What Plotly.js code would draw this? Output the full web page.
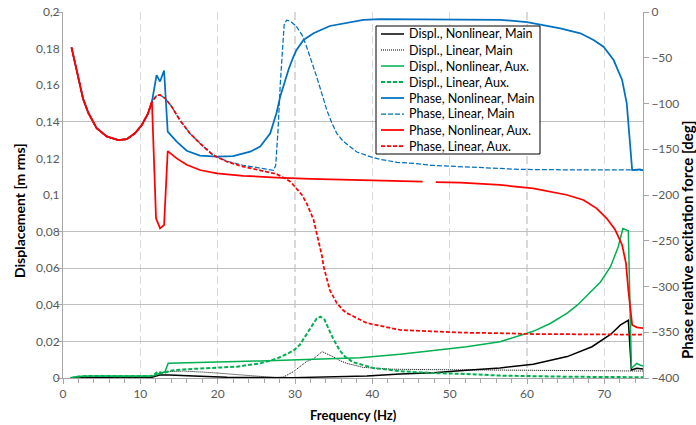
<!DOCTYPE html>
<html><head><meta charset="utf-8">
<script src="https://cdn.plot.ly/plotly-3.0.1.min.js"></script>
<style>body{margin:0;padding:0;background:#fff}#chart{width:696px;height:425px}</style>
</head><body><div id="chart"></div>
<script>
// ---- Data ----
// Displacement, Nonlinear, Main [m rms]
const fDNLMain = [1,8,11.5,12.5,13.8,16.9,21.2,29.8,35,39.3,43.6,47.9,52.2,56.5,60.8,65.2,68.4,70.8,72.1,72.9,73.1,73.5,74.2,75];
const dNLMain  = [0.0002,0.0003,0.0004,0.0016,0.0016,0.0011,0.0004,0.0002,0.0005,0.0011,0.0022,0.0029,0.0042,0.0055,0.0075,0.0117,0.0171,0.0238,0.029,0.0313,0.0315,0.0044,0.0053,0.0049];
// Displacement, Linear, Main
const fDLMain = [1,8,11.2,12,12.5,13.8,15.6,19,21.2,23.3,25.5,27.6,28.5,29.8,31.5,32.4,33.5,35,35.8,36.7,38.8,42.7,47,52.2,60.8,75];
const dLMain  = [0.0003,0.0004,0.0005,0.0015,0.0029,0.0035,0.0038,0.003,0.0023,0.0016,0.0009,0.0002,0.0005,0.0035,0.009,0.0105,0.0144,0.0115,0.0095,0.008,0.0058,0.0048,0.0046,0.0044,0.004,0.0038];
// Displacement, Nonlinear, Aux.
const fDNLAux = [1,1.5,2.5,3.5,8.2,11.2,11.7,12.5,13.2,13.6,16.9,21.2,25.5,29.8,34.1,38.4,43.6,47.9,52.2,56.5,60.8,63,65.2,66.5,67.8,69.5,70.8,71.8,72.4,72.9,73.1,73.5,74.2,74.6,75];
const dNLAux  = [0,0.0006,0.001,0.0011,0.0011,0.0009,0.0012,0.0025,0.0035,0.008,0.0085,0.0089,0.0093,0.0098,0.0104,0.011,0.013,0.015,0.0171,0.0198,0.0255,0.0298,0.0355,0.0398,0.0452,0.0525,0.0608,0.0717,0.0817,0.0809,0.0805,0.0053,0.008,0.0071,0.0066];
// Displacement, Linear, Aux.
const fDLAux = [1,2,3.5,8.2,11.2,11.7,12.3,13,13.8,15.6,19,22.5,25.5,27.6,28.9,29.8,30.6,31.5,32.2,32.8,33.3,33.8,34.5,35,35.8,36.5,37.6,39.3,40.1,43.6,47.9,52.2,56.5,65.2,75];
const dLAux  = [0,0.0008,0.0011,0.0011,0.0009,0.0016,0.0035,0.0025,0.004,0.0047,0.0053,0.0062,0.008,0.0105,0.013,0.015,0.018,0.024,0.029,0.0325,0.0335,0.032,0.0255,0.021,0.015,0.0115,0.0085,0.0062,0.0055,0.0037,0.0027,0.0022,0.0013,0.0007,0.0004];
// Phase, Nonlinear, Main [deg]
const fPNLMain = [1.1,1.75,2.2,2.6,3.3,4.35,5.65,7.16,8.24,9.3,10.2,11,11.5,12.1,12.55,13.07,13.54,14.7,16,17.7,19.9,22,24.2,25.5,26.8,27.6,28.1,28.5,29.2,29.8,30.2,31.1,32.4,34.5,36.7,38.85,41,51.4,56.5,60,62.1,64.3,66.9,68.6,69.9,71.2,72.3,72.9,73.6,74.6,75];
const pNLMain  = [-38.6,-63,-81.6,-95,-110.7,-127,-136,-140,-139,-132.6,-123.5,-110.7,-98,-68.9,-76,-64,-130.8,-141.7,-151.6,-157,-158,-157.4,-152.7,-147,-132.6,-110.7,-92,-80,-62,-48.8,-41.5,-30.6,-23.3,-15.3,-11.7,-8.7,-7.7,-7.7,-8.5,-11,-14.2,-17.8,-23.3,-30.6,-37.9,-52.5,-74.3,-99.8,-172.7,-172,-173];
// Phase, Linear, Main
const fPLMain = [1.1,1.75,2.2,2.6,3.3,4.35,5.65,7.16,8.24,9.3,10.2,11,11.5,12.1,12.55,13.2,14.06,15.1,16.4,17.7,19.4,21.2,23.3,25.5,27.2,27.5,27.8,28.1,28.35,28.6,28.9,29.4,30.2,30.9,31.5,32.2,32.8,33.5,34.1,34.8,35.4,36.2,37.1,38,39.7,41,43.2,45.3,47.5,49.6,51.4,53.9,56.5,59.1,65,75];
const pLMain  = [-38.6,-63,-81.6,-95,-110.7,-127,-136,-140,-139,-132.6,-123.5,-110.7,-98,-91.4,-90.7,-94.3,-103.5,-118,-132.6,-143.5,-156.3,-163,-167.5,-170.5,-173,-168,-130,-78,-40,-14,-9,-10,-16,-25,-37.9,-55,-70.7,-90,-107,-122,-132.6,-141,-147,-153,-158,-161,-164.3,-165.4,-167.5,-168.3,-169.5,-170,-171,-172,-172.5,-172.7];
// Phase, Nonlinear, Aux.
const fPNLAux = [1.1,1.75,2.2,2.6,3.3,4.35,5.65,7.16,8.24,9.3,10.2,11,11.5,12.03,12.55,13.07,13.54,14.7,16,17.7,19.9,23.3,27.6,32,40,46.5,47.3,48.2,51.4,56.5,60.8,65.2,67.3,69,70.3,71.4,72.3,72.8,73.1,73.6,74.2,75];
const pNLAux  = [-38.6,-63,-81.6,-95,-110.7,-127,-136,-140,-139,-132.6,-123.5,-110.7,-98,-225.5,-236.4,-232.8,-152,-160,-167,-172.7,-176.3,-179,-181,-182.5,-184,-185.5,null,-186,-186.5,-189,-192.7,-200,-205.5,-214.6,-225.5,-238,-254.6,-274.7,-303.8,-342,-344.6,-345.4];
// Phase, Linear, Aux.
const fPLAux = [1.1,1.75,2.2,2.6,3.3,4.35,5.65,7.16,8.24,9.3,10.2,11,11.5,12.1,12.55,13.2,14.06,15.1,16.4,17.7,19.4,21.2,23.3,25.5,27.6,28.5,29.4,30.2,30.9,31.5,32,32.4,33,33.5,33.7,34.1,34.5,35.4,36.2,36.7,38.4,39.3,43.6,47.9,52.2,56.5,60.8,69.5,75];
const pLAux  = [-38.6,-63,-81.6,-95,-110.7,-127,-136,-140,-139,-132.6,-123.5,-110.7,-98,-91.4,-90.7,-94.3,-103.5,-118,-132.6,-143.5,-156.3,-163.6,-169,-172.7,-177,-181,-185.4,-193,-200,-209,-218,-227,-249,-267,-278,-292,-304,-318,-325.7,-329,-336.6,-340,-347.5,-349.4,-350.5,-351,-352,-352.3,-352.7];

const seriesNames = ["Displ., Nonlinear, Main","Displ., Linear, Main","Displ., Nonlinear, Aux.","Displ., Linear, Aux.","Phase, Nonlinear, Main","Phase, Linear, Main","Phase, Nonlinear, Aux.","Phase, Linear, Aux."];
const leftTickVals = [0,0.02,0.04,0.06,0.08,0.1,0.12,0.14,0.16,0.18,0.2];
const leftTickText = ["0","0,02","0,04","0,06","0,08","0,1","0,12","0,14","0,16","0,18","0,2"];
const leftGridVals = [0,0.02,0.04,0.06,0.08,0.14,0.2];
const rightTickVals = [0,-50,-100,-150,-200,-250,-300,-350,-400];
const xTickVals = [0,10,20,30,40,50,60,70];
const xTitle = "Frequency (Hz)";
const yLeftTitle = "Displacement [m rms]";
const yRightTitle = "Phase relative excitation force [deg]";

const BLACK="#000000", GREEN="#00B050", BLUE="#0070C0", RED="#FF0000";
const FONT = "Lato, 'Open Sans', sans-serif";

const lineStyles = [
  {color:BLACK,width:1.5},
  {color:BLACK,width:1,dash:"1px,1px"},
  {color:GREEN,width:1.5},
  {color:GREEN,width:2,dash:"4px,2px"},
  {color:BLUE,width:1.75},
  {color:BLUE,width:1.25,dash:"5px,2px"},
  {color:RED,width:1.75},
  {color:RED,width:1.75,dash:"4px,2px"}
];
const xs = [fDNLMain,fDLMain,fDNLAux,fDLAux,fPNLMain,fPLMain,fPNLAux,fPLAux];
const ys = [dNLMain,dLMain,dNLAux,dLAux,pNLMain,pLMain,pNLAux,pLAux];

const traces = seriesNames.map((n,i)=>({
  type:"scatter",mode:"lines",hoverinfo:"skip",showlegend:false,connectgaps:false,
  x:xs[i],y:ys[i],name:n,yaxis:i<4?"y":"y2",line:lineStyles[i]
}));
// dummy trace to activate yaxis3 gridlines
traces.unshift({type:"scatter",x:[0],y:[0],yaxis:"y3",mode:"markers",marker:{opacity:0},showlegend:false,hoverinfo:"skip"});

// pixel -> paper helpers
const plotL=63, plotR=643, plotT=12, plotB=378;
const px2x = p => (p-plotL)/(plotR-plotL);
const py2y = p => (plotB-p)/(plotB-plotT);

// custom legend box
const shapes = [{type:"rect",xref:"paper",yref:"paper",x0:px2x(376),x1:px2x(540),y0:py2y(26),y1:py2y(154),
  line:{color:"#000",width:1},fillcolor:"#fff",layer:"above"}];
const annotations = [];
seriesNames.forEach((n,i)=>{
  const cy = 34 + i*16;
  shapes.push({type:"line",xref:"paper",yref:"paper",x0:px2x(381),x1:px2x(404),y0:py2y(cy),y1:py2y(cy),
    line:lineStyles[i],layer:"above"});
  annotations.push({xref:"paper",yref:"paper",x:px2x(407),y:py2y(cy),xanchor:"left",yanchor:"middle",
    text:n,showarrow:false,font:{family:FONT,size:12.5,color:"#000"}});
});
// axis titles
const titleFont = s => ({family:FONT,size:s,color:"#000",weight:"bold"});
annotations.push({xref:"paper",yref:"paper",x:px2x(353),y:py2y(415),xanchor:"center",yanchor:"middle",
  text:xTitle,showarrow:false,font:titleFont(13)});
annotations.push({xref:"paper",yref:"paper",x:px2x(19),y:py2y(211),xanchor:"center",yanchor:"middle",textangle:-90,
  text:yLeftTitle,showarrow:false,font:titleFont(14)});
annotations.push({xref:"paper",yref:"paper",x:px2x(687),y:py2y(240),xanchor:"center",yanchor:"middle",textangle:-90,
  text:yRightTitle,showarrow:false,font:titleFont(15)});

const layout = {
  width:696, height:425,
  margin:{l:63,r:53,t:12,b:47},
  paper_bgcolor:"#fff", plot_bgcolor:"#fff",
  font:{family:FONT,size:12,color:"#595959"},
  showlegend:false,
  shapes:shapes, annotations:annotations,
  xaxis:{range:[0,75],tickvals:xTickVals,ticks:"outside",ticklen:5,tickcolor:"#A6A6A6",
         showline:true,linecolor:"#A6A6A6",linewidth:1,
         showgrid:true,gridcolor:"#D9D9D9",gridwidth:1.5,griddash:"8px,4px",zeroline:false,
         minor:{dtick:2,ticks:"outside",ticklen:4,tickcolor:"#A6A6A6",showgrid:false},
         tickfont:{family:FONT,size:12,color:"#595959"}},
  yaxis:{range:[0,0.2],tickvals:leftTickVals,ticktext:leftTickText,ticks:"",showgrid:false,zeroline:false,
         showline:true,linecolor:"#A6A6A6",linewidth:1,
         tickfont:{family:FONT,size:12,color:"#595959"}},
  yaxis3:{range:[0,0.2],overlaying:"y",tickvals:leftGridVals,showticklabels:false,ticks:"outside",ticklen:5,
          tickcolor:"#A6A6A6",showgrid:true,gridcolor:"#BFBFBF",gridwidth:1,zeroline:false,layer:"below traces"},
  yaxis2:{range:[-400,0],overlaying:"y",side:"right",tickvals:rightTickVals,ticks:"outside",ticklen:5,tickcolor:"#A6A6A6",
          showgrid:false,zeroline:false,showline:true,linecolor:"#A6A6A6",linewidth:1,
          tickfont:{family:FONT,size:12,color:"#595959"}}
};

Plotly.newPlot("chart",traces,layout,{staticPlot:true,displayModeBar:false});
</script>
</body></html>
